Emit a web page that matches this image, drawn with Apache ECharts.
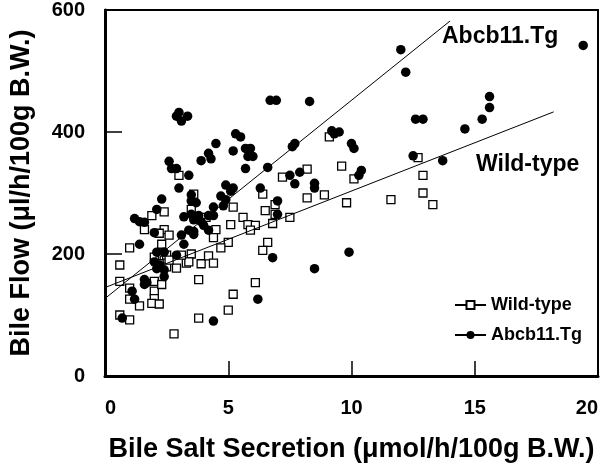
<!DOCTYPE html>
<html>
<head>
<meta charset="utf-8">
<script src="https://cdn.jsdelivr.net/npm/echarts@6/dist/echarts.min.js"></script>
<style>html,body{margin:0;padding:0;background:#fff;}#chart{width:608px;height:469px;}</style>
</head>
<body>
<div id="chart"></div>
<script>
// Axis ticks
const xTicks = [0, 5, 10, 15, 20];
const yTicks = [0, 200, 400, 600];

// Wild-type: bile salt secretion (x) and bile flow (y)
const wtX = [9.1,3.0,7.2,8.2,9.6,6.4,8.2,8.9,3.6,10.1,9.8,6.9,7.5,12.7,12.9,12.9,11.6,13.3,5.2,2.4,1.9,3.5,5.6,5.1,6.5,6.9,5.8,6.1,6.8,5.9,4.1,4.5,4.4,1.6,2.4,2.6,2.2,5.0,4.7,6.6,6.4,1.0,2.3,2.0,2.4,2.5,3.5,3.3,2.9,2.5,3.9,4.2,4.4,0.6,0.6,1.0,1.0,1.4,2.0,2.0,2.0,1.9,2.2,2.3,0.6,1.0,2.8,3.8,3.8,5.2,5.0,6.1,3.4,3.1,2.6,2.2];
const wtY = [392,329,326,339,344,298,292,297,298,323,284,281,260,358,329,300,289,281,277,269,263,273,260,248,271,265,248,247,250,239,260,240,227,240,240,231,234,219,210,219,206,210,216,195,190,198,200,185,177,179,184,197,185,182,155,144,126,115,155,139,127,119,118,150,100,92,69,158,95,134,108,153,187,198,190,184];

// Abcb11.Tg: bile salt secretion (x) and bile flow (y)
const tgX = [19.4,12.0,12.2,15.6,15.6,15.3,14.6,12.6,12.9,12.5,13.7,9.2,9.3,9.5,10.0,10.1,10.4,10.3,9.9,8.5,6.8,6.2,4.4,0.7,1.1,1.2,1.6,1.6,1.7,1.4,2.1,2.4,2.9,2.0,2.1,2.2,2.4,2.4,2.0,3.1,3.2,3.4,3.6,3.6,4.2,1.2,1.4,1.6,3.2,3.5,3.6,3.8,3.9,4.0,4.2,4.4,7.0,7.0,2.1,3.7,4.4,4.8,4.7,4.9,3.5,3.5,2.3,3.0,4.9,5.2,5.1,6.3,7.7,8.5,8.5,7.5,7.9,7.6,7.7,6.6,3.4,2.6,2.7,2.9,3.9,4.2,4.3,5.8,6.0,5.7,5.2,5.7,5.9,4.5,5.3,5.5,6.7,6.95,8.3,2.9,3.0,3.1,3.35];
const tgY = [542,535,498,458,440,421,405,421,421,361,353,402,397,400,381,373,337,329,203,176,194,126,90,95,139,126,158,150,153,216,203,203,198,187,176,182,174,163,235,231,216,239,237,232,239,258,253,252,261,265,256,263,253,247,263,263,265,287,273,284,277,279,295,289,287,297,290,308,313,308,303,308,315,316,308,329,334,376,381,342,329,352,340,340,353,365,356,360,360,340,369,373,373,381,397,392,452,452,450,426,432,418,426];

// Regression line end points
const wtFitX = [0, 18.2];
const wtFitY = [145, 433];
const tgFitX = [0, 14.0];
const tgFitY = [127, 582];

const FONT = 'Liberation Sans, Arial, Helvetica, sans-serif';
const zip = (a, b) => a.map((v, i) => [v, b[i]]);

const chart = echarts.init(document.getElementById('chart'), null, {renderer: 'canvas'});
chart.setOption({
  animation: false,
  backgroundColor: '#fff',
  grid: {left: 103, right: 10, top: 4, bottom: 93, show: true, borderColor: '#000', borderWidth: 2, backgroundColor: 'transparent'},
  xAxis: {
    type: 'value', min: xTicks[0], max: xTicks[xTicks.length - 1], interval: xTicks[1] - xTicks[0],
    axisLine: {lineStyle: {color: '#000', width: 3}},
    axisTick: {inside: true, length: 15, lineStyle: {color: '#000', width: 1.5}},
    splitLine: {show: false},
    axisLabel: {color: '#000', fontSize: 20, fontWeight: 'bold', fontFamily: FONT, margin: 22, alignMinLabel: 'left', alignMaxLabel: 'right'},
    name: 'Bile Salt Secretion (μmol/h/100g B.W.)', nameLocation: 'middle', nameGap: 60,
    nameTextStyle: {color: '#000', fontSize: 27, fontWeight: 'bold', fontFamily: FONT}
  },
  yAxis: {
    type: 'value', min: yTicks[0], max: yTicks[yTicks.length - 1], interval: yTicks[1] - yTicks[0],
    axisLine: {lineStyle: {color: '#000', width: 3}},
    axisTick: {inside: true, length: 17, lineStyle: {color: '#000', width: 1.5}},
    splitLine: {show: false},
    axisLabel: {color: '#000', fontSize: 20, fontWeight: 'bold', fontFamily: FONT, margin: 20},
    name: 'Bile Flow (μl/h/100g B.W.)', nameLocation: 'middle', nameGap: 70,
    nameTextStyle: {color: '#000', fontSize: 27, fontWeight: 'bold', fontFamily: FONT}
  },
  legend: {
    orient: 'vertical', left: 449, top: 291, itemWidth: 31, itemHeight: 10, itemGap: 12,
    textStyle: {color: '#000', fontSize: 18, fontWeight: 'bold', fontFamily: FONT},
    data: ['Wild-type', 'Abcb11.Tg']
  },
  graphic: [
    {type: 'text', left: 442, top: 25, style: {text: 'Abcb11.Tg', font: 'bold 23px ' + FONT, fill: '#000'}},
    {type: 'text', left: 476, top: 153, style: {text: 'Wild-type', font: 'bold 23px ' + FONT, fill: '#000'}}
  ],
  series: [
    {name: 'Wild-type', type: 'line', data: [], symbol: 'rect', lineStyle: {color: '#000', width: 1},
     itemStyle: {color: '#fff', borderColor: '#000', borderWidth: 1.3}},
    {name: 'Abcb11.Tg', type: 'line', data: [], symbol: 'circle', lineStyle: {color: '#000', width: 1},
     itemStyle: {color: '#000', borderColor: '#000', borderWidth: 0}},
    {name: 'Wild-type', type: 'scatter', data: zip(wtX, wtY), symbol: 'rect', symbolSize: 8,
     itemStyle: {color: '#fff', borderColor: '#000', borderWidth: 1.3, opacity: 1}},
    {name: 'Abcb11.Tg', type: 'scatter', data: zip(tgX, tgY), symbol: 'circle', symbolSize: 9.5,
     itemStyle: {color: '#000', opacity: 1}},
    {name: 'Wild-type fit', type: 'line', data: zip(wtFitX, wtFitY), showSymbol: false, silent: true,
     lineStyle: {color: '#000', width: 1}},
    {name: 'Abcb11.Tg fit', type: 'line', data: zip(tgFitX, tgFitY), showSymbol: false, silent: true,
     lineStyle: {color: '#000', width: 1}}
  ]
});
</script>
</body>
</html>
